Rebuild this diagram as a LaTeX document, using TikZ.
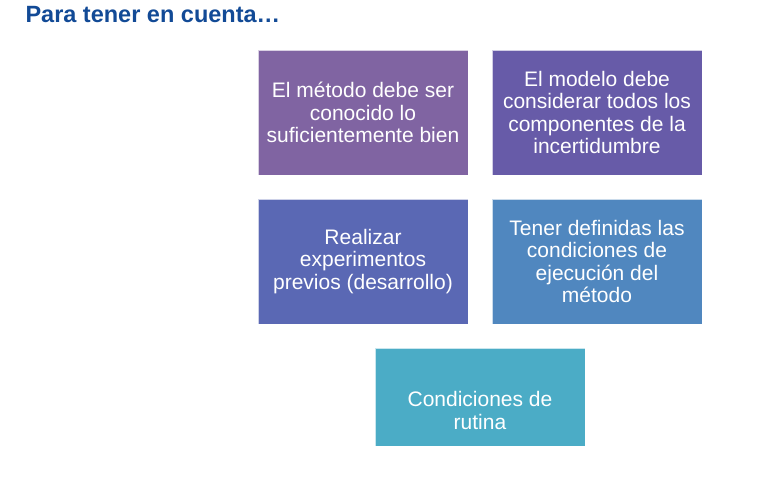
\documentclass[tikz,border=0pt]{standalone}
\usepackage{color}
\usepackage{fontspec}
\setmainfont{Liberation Sans}
\usepackage{tikz}
\definecolor{titleblue}{RGB}{18,74,150}
\definecolor{boxa}{RGB}{128,100,162}
\definecolor{boxb}{RGB}{103,91,168}
\definecolor{boxc}{RGB}{90,104,180}
\definecolor{boxd}{RGB}{80,135,191}
\definecolor{boxe}{RGB}{75,172,198}
\begin{document}
\begin{tikzpicture}[x=1pt,y=-1pt,
            tip/.style={rectangle, draw=white, draw opacity=0.7, line width=0.8pt, text=white,
                minimum width=210pt, minimum height=125pt, align=center, inner sep=0pt,
                font=\fontsize{21}{22.5}\selectfont}]
            \useasboundingbox (0,0) rectangle (782,486);
            \node [anchor=base west, text=titleblue, font=\fontsize{23.5}{26}\selectfont\bfseries] (titulo) at (22,23) {Para tener en cuenta\ldots};
            \node [tip, fill=boxa] (metodo) at (363,112.5) {El método debe ser\\conocido lo\\suficientemente bien};
            \node [tip, fill=boxb] (modelo) at (597,112.5) {El modelo debe\\considerar todos los\\componentes de la\\incertidumbre};
            \node [tip, fill=boxc] (previos) at (363,261.5) {Realizar\\experimentos\\previos (desarrollo)};
            \node [tip, fill=boxd] (definidas) at (597,261.5) {Tener definidas las\\condiciones de\\ejecución del\\método};
            \begin{scope}
                \clip (0,0) rectangle (782,445.5);
                \node [tip, fill=boxe] (rutina) at (480,410.5) {Condiciones de\\rutina};
            \end{scope}
        \end{tikzpicture}
\end{document}
